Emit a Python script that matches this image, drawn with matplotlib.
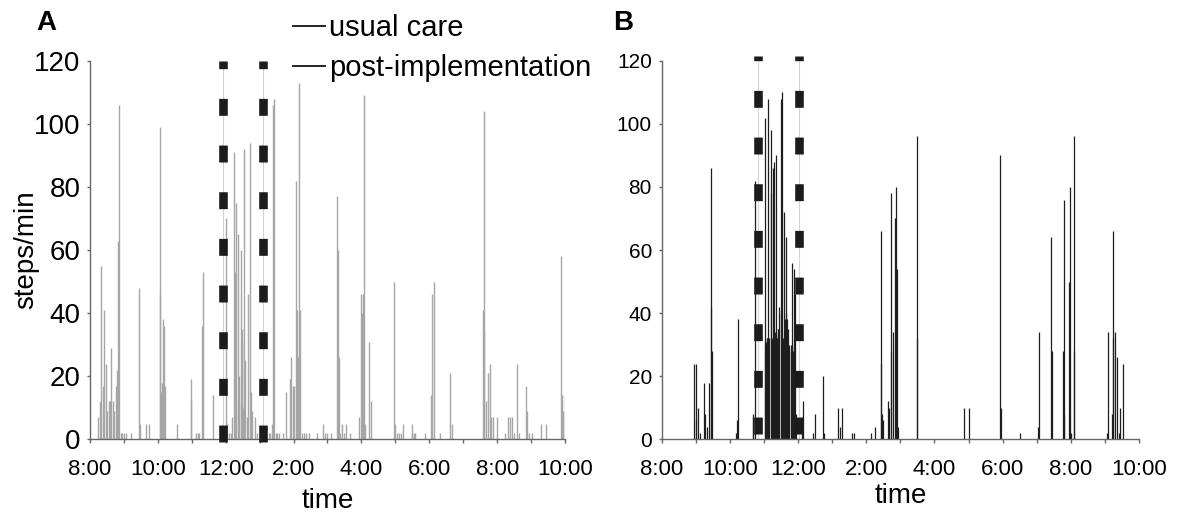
import numpy as np
import matplotlib.pyplot as plt
from matplotlib.lines import Line2D

plt.rcParams["font.family"] = "Liberation Sans"
plt.rcParams["lines.scale_dashes"] = False

# time = hours after 8:00 am, value = steps/min
usual_t = [0.24, 0.29, 0.33, 0.38, 0.42, 0.47, 0.51, 0.55, 0.58, 0.63, 0.67, 0.72, 0.76,
           0.81, 0.83, 0.85, 0.90, 0.94, 1.01, 1.06, 1.21, 1.44, 1.46, 1.66, 1.73,
           2.05, 2.07, 2.10, 2.12, 2.16, 2.18, 2.21, 2.55, 2.97, 2.99, 3.13, 3.18, 3.22,
           3.31, 3.34, 3.63,
           4.01, 4.05, 4.10, 4.15, 4.19, 4.24, 4.26, 4.29, 4.31, 4.35, 4.38, 4.40, 4.44,
           4.47, 4.49, 4.52, 4.55, 4.58, 4.62, 4.67, 4.71, 4.74, 4.78, 4.85, 4.92,
           5.28, 5.32, 5.36, 5.39, 5.43, 5.48, 5.52, 5.57, 5.68, 5.77, 5.89, 5.93, 5.98,
           6.02, 6.07, 6.11, 6.13, 6.16, 6.20, 6.25, 6.31, 6.38, 6.45, 6.68, 6.88, 6.92,
           6.99, 7.10, 7.29, 7.31, 7.33, 7.38, 7.44, 7.49, 7.56, 7.67, 7.94, 7.99, 8.03,
           8.05, 8.07, 8.12, 8.23, 8.28, 8.96, 9.00, 9.06, 9.11, 9.16, 9.24, 9.48, 9.50,
           9.55, 9.59, 9.88, 10.04, 10.08, 10.13, 10.33, 10.60, 10.67, 11.57, 11.60,
           11.62, 11.66, 11.73, 11.78, 11.82, 11.87, 12.00, 12.23, 12.32, 12.39, 12.43,
           12.50, 12.59, 12.63, 12.84, 12.88, 12.95, 13.04, 13.29, 13.43, 13.88, 13.90,
           13.94, 13.99]
usual_v = [7, 12, 55, 17, 41, 24, 9, 12, 12, 29, 12, 9, 17,
           22, 63, 106, 2, 2, 2, 2, 2, 48, 5, 5, 5,
           99, 46, 15, 18, 38, 36, 17, 5, 19, 12, 2, 2, 2,
           36, 53, 14,
           70, 5, 2, 2, 7, 91, 53, 12, 75, 65, 20, 12, 60,
           35, 31, 10, 92, 25, 7, 46, 94, 15, 9, 7, 2,
           2, 2, 5, 106, 108, 2, 2, 2, 2, 15, 19, 26, 17,
           17, 82, 41, 26, 113, 41, 2, 2, 2, 2, 2, 5, 2,
           2, 2, 77, 60, 26, 2, 5, 2, 5, 2, 7, 46, 40,
           46, 109, 5, 31, 12, 50, 5, 2, 2, 2, 5, 5, 2,
           2, 2, 2, 14, 46, 50, 2, 21, 5, 41, 104,
           34, 12, 21, 24, 7, 7, 7, 2, 7, 7, 7,
           2, 24, 2, 17, 9, 2, 2, 5, 5, 58, 14,
           9, 14]

post_t = [0.95, 1.00, 1.02, 1.06, 1.11, 1.24, 1.28, 1.33, 1.39, 1.44, 1.46, 1.48,
          2.17, 2.21, 2.23, 2.68, 2.69, 2.73,
          3.02, 3.04, 3.06, 3.08, 3.10, 3.12, 3.14, 3.20, 3.22, 3.24, 3.26, 3.28, 3.30,
          3.32, 3.34, 3.36, 3.38, 3.40, 3.42, 3.44, 3.49, 3.51, 3.53, 3.55, 3.60, 3.62,
          3.64, 3.66, 3.68, 3.70, 3.72, 3.74, 3.79, 3.81, 3.83, 3.85, 3.89, 3.91, 3.93,
          4.11, 4.15, 4.45, 4.51, 4.73, 4.76, 5.18, 5.22, 5.29, 5.58, 5.64, 6.13, 6.26,
          6.42, 6.43, 6.46, 6.50, 6.64, 6.68, 6.73, 6.74, 6.79, 6.84, 6.86, 6.88, 6.89,
          6.92, 7.48, 7.50, 8.87, 9.00, 9.93, 9.96, 10.51, 11.04, 11.06, 11.42, 11.46,
          11.77, 11.79, 11.81, 11.95, 11.97, 12.01, 12.08, 12.10, 13.05, 13.10, 13.21,
          13.23, 13.25, 13.30, 13.36, 13.41, 13.45, 13.52]
post_v = [24, 6, 24, 10, 2, 18, 8, 4, 18, 42, 86, 28,
          2, 6, 38, 8, 7, 82,
          102, 30, 31, 32, 32, 108, 32, 98, 78, 32, 86, 33, 88,
          34, 90, 33, 32, 35, 35, 42, 108, 40, 110, 32, 72, 38,
          64, 40, 38, 35, 30, 28, 30, 56, 30, 28, 54, 46, 8,
          7, 12, 2, 8, 20, 2, 10, 4, 10, 2, 2, 2, 4,
          66, 24, 8, 6, 12, 10, 78, 28, 34, 70, 28, 80, 54,
          4, 96, 32, 10, 10, 90, 10, 2, 4, 34, 64, 28,
          28, 76, 8, 50, 80, 2, 28, 96, 2, 34, 8,
          32, 66, 34, 26, 2, 10, 24]

# meal / intervention window markers (hours after 8:00)
usual_marks = [3.91, 5.10]
post_marks = [2.82, 4.02]

hour_ticks = [0, 2, 4, 6, 8, 10, 12, 14]
hour_labels = ["8:00", "10:00", "12:00", "2:00", "4:00", "6:00", "8:00", "10:00"]
y_ticks = [0, 20, 40, 60, 80, 100, 120]

fig = plt.figure(figsize=(11.81, 5.16), dpi=100)
axA = fig.add_axes([0.0762, 0.1486, 0.4022, 0.7337])
axB = fig.add_axes([0.5603, 0.1486, 0.4041, 0.7337])


def style(ax, ysize):
    ax.set_xlim(0, 14)
    ax.set_ylim(0, 120)
    for s in ["top", "right"]:
        ax.spines[s].set_visible(False)
    for s in ["left", "bottom"]:
        ax.spines[s].set_color("#666666")
        ax.spines[s].set_linewidth(1.0)
    ax.set_xticks(hour_ticks)
    ax.set_xticklabels(hour_labels)
    ax.set_xticks(range(15), minor=True)
    ax.set_yticks(y_ticks)
    ax.tick_params(axis="x", which="both", direction="out", length=3, width=1,
                   color="#666666", labelsize=16, pad=11)
    ax.tick_params(axis="y", direction="out", length=2, width=1,
                   color="#666666", labelsize=ysize, pad=5)


def markers(ax, xs, y0, y1, offset):
    for x in xs:
        ax.plot([x, x], [0, 120], color="#d4d4d4", lw=0.8, zorder=1)
        ax.plot([x, x], [y0, y1], color="#1c1c1c", lw=6.2,
                linestyle=(offset, (12.2, 21.4)), clip_on=False,
                solid_capstyle="butt", dash_capstyle="butt", zorder=3)


axA.vlines(usual_t, 0, usual_v, color="#a6a6a6", lw=1.0, zorder=2)
markers(axA, usual_marks, -0.7, 120, 0)
style(axA, 20)
axA.set_xlabel("time", fontsize=20, labelpad=6)
axA.set_ylabel("steps/min", fontsize=20, labelpad=-4)

axB.vlines(post_t, 0, post_v, color="#1e1e1e", lw=0.9, zorder=2)
markers(axB, post_marks, 0, 121.5, 30)
style(axB, 15)
axB.set_xlabel("time", fontsize=20, labelpad=2)

fig.text(36 / 1181, 1 - 10 / 516, "A", fontsize=20, fontweight="bold", va="top", ha="left")
fig.text(613 / 1181, 1 - 10 / 516, "B", fontsize=20, fontweight="bold", va="top", ha="left")

handles = [Line2D([], [], color="#111111", lw=1.3), Line2D([], [], color="#111111", lw=1.3)]
fig.legend(handles, ["usual care", "post-implementation"], loc="upper left",
           bbox_to_anchor=(293 / 1181, 1 - 14 / 516), frameon=False, fontsize=21,
           handlelength=1.1, handletextpad=0.12, labelspacing=0.42,
           borderpad=0, borderaxespad=0)

fig.savefig("out.png", dpi=100)
